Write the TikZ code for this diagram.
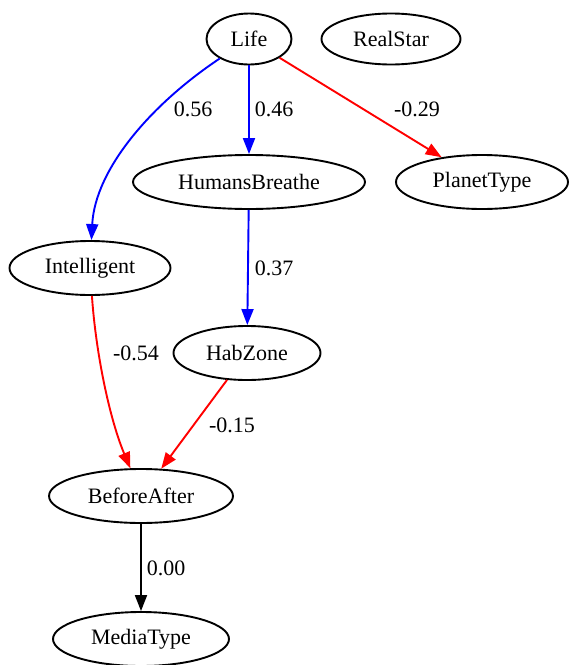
\documentclass[tikz,border=0pt]{standalone}
\usepackage{fontspec}
\setmainfont{Liberation Serif}
\usetikzlibrary{shapes.geometric,arrows.meta}
\begin{document}
\begin{tikzpicture}[x=1pt,y=-1pt,
  nd/.style={ellipse,draw,line width=1.9pt,inner sep=0pt,font=\fontsize{22}{26}\selectfont},
  ed/.style={line width=1.9pt,-{Triangle[length=16pt,width=12pt]}},
  lb/.style={font=\fontsize{22}{26}\selectfont,inner sep=0pt}]
\useasboundingbox (0,0) rectangle (569,665);
\node[nd,minimum width=85pt,minimum height=51pt] (Life) at (249,39) {Life};
\node[nd,minimum width=139pt,minimum height=51pt] (RealStar) at (391,39) {RealStar};
\node[nd,minimum width=232pt,minimum height=54pt] (HumansBreathe) at (249,182) {HumansBreathe};
\node[nd,minimum width=172pt,minimum height=54pt] (PlanetType) at (482,182) {PlanetType};
\node[nd,minimum width=161pt,minimum height=54pt] (Intelligent) at (90,268) {Intelligent};
\node[nd,minimum width=147pt,minimum height=54pt] (HabZone) at (247,353) {HabZone};
\node[nd,minimum width=184pt,minimum height=54pt] (BeforeAfter) at (141,496) {BeforeAfter};
\node[nd,minimum width=176pt,minimum height=54pt] (MediaType) at (141,639) {MediaType};

\draw[ed,blue] (Life) .. controls (150,105) and (95,170) .. (Intelligent);
\draw[ed,blue] (Life) -- (HumansBreathe);
\draw[ed,red] (Life) -- (PlanetType);
\draw[ed,blue] (HumansBreathe) -- (HabZone);
\draw[ed,red] (Intelligent) .. controls (96,355) and (110,420) .. (BeforeAfter.111);
\draw[ed,red] (HabZone) -- (BeforeAfter);
\draw[ed,black] (BeforeAfter) -- (MediaType);

\node[lb] (l1) at (193,109) {0.56};
\node[lb] (l2) at (274,109) {0.46};
\node[lb] (l3) at (417,109) {-0.29};
\node[lb] (l4) at (274,268) {0.37};
\node[lb] (l5) at (136,353) {-0.54};
\node[lb] (l6) at (232,425) {-0.15};
\node[lb] (l7) at (166,568) {0.00};
\end{tikzpicture}
\end{document}
